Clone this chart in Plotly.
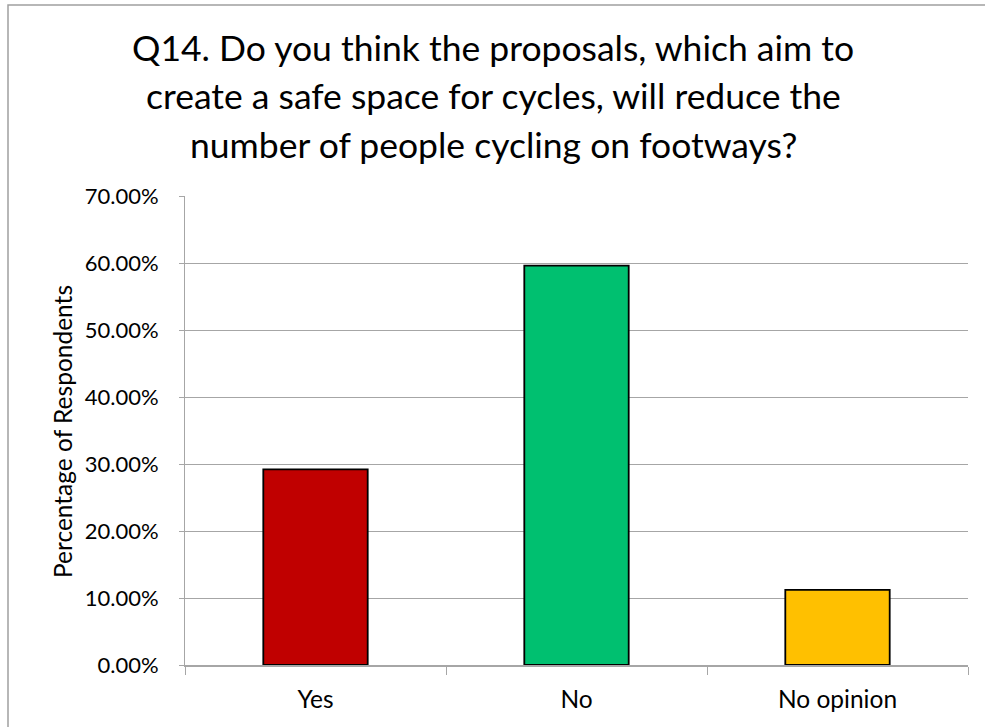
import plotly.graph_objects as go

categories = ["Yes", "No", "No opinion"]
values = [0.292, 0.596, 0.112]
colors = ["#C00000", "#00C070", "#FFC000"]
tick_vals = [0, 0.1, 0.2, 0.3, 0.4, 0.5, 0.6, 0.7]
title_lines = [
    "Q14. Do you think the proposals, which aim to",
    "create a safe space for cycles, will reduce the",
    "number of people cycling on footways?",
]
y_title = "Percentage of Respondents"

W, H = 985, 727
L, R, T, B = 185, 17, 196, 62
FONT = "Lato, Carlito, Calibri, sans-serif"

fig = go.Figure()
fig.add_trace(go.Bar(
    x=categories, y=values,
    marker=dict(color=colors, line=dict(color="black", width=1.8)),
    width=0.4,
))

ph = H - T - B
pw = W - L - R
def py(pix):  # pixel y -> paper y
    return (H - B - pix) / ph
def px(pix):
    return (pix - L) / pw

annotations = []
for line, ypix in zip(title_lines, [47, 96, 144]):
    annotations.append(dict(
        text=line, xref="paper", yref="paper", x=px(493), y=py(ypix),
        xanchor="center", yanchor="middle", showarrow=False,
        font=dict(family=FONT, size=35.5, color="black"),
    ))
annotations.append(dict(
    text=y_title, xref="paper", yref="paper", x=px(62), y=py(432),
    xanchor="center", yanchor="middle", showarrow=False, textangle=-90,
    font=dict(family=FONT, size=24.5, color="black"),
))

fig.update_layout(
    width=W, height=H,
    margin=dict(l=L, r=R, t=T, b=B),
    paper_bgcolor="white", plot_bgcolor="white",
    showlegend=False,
    annotations=annotations,
    font=dict(family=FONT, color="black"),
    shapes=[dict(type="rect", xref="paper", yref="paper",
                 x0=px(8), x1=px(995), y0=py(740), y1=py(5),
                 line=dict(color="#A0A0A0", width=1.5), layer="below")],
)
fig.update_yaxes(
    range=[0, 0.7], tickvals=tick_vals, tickformat=".2%",
    showgrid=True, gridcolor="#A6A6A6", gridwidth=1,
    showline=True, linecolor="#A6A6A6", linewidth=1,
    ticks="outside", ticklen=5, tickcolor="#A6A6A6",
    ticklabelstandoff=16,
    tickfont=dict(size=22, family=FONT, color="black"),
    zeroline=False,
)
fig.update_xaxes(
    showline=True, linecolor="#A6A6A6", linewidth=1.5,
    ticks="outside", ticklen=8, tickcolor="#A6A6A6", tickson="boundaries",
    ticklabelstandoff=12,
    tickfont=dict(size=24.5, family=FONT, color="black"),
    showgrid=False,
)

fig.write_html("out.html", config={"displayModeBar": False},
               post_script="document.body.style.margin='0';")
